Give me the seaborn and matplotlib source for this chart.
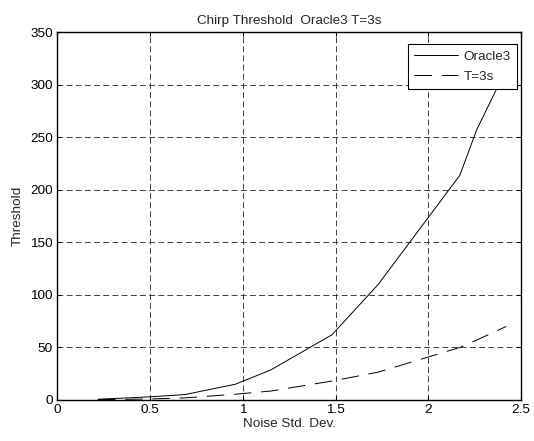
import seaborn as sns
from matplotlib import pyplot as plt
import pandas as pd

sns.set_style('white')
plt.rcParams['font.family'] = ['Liberation Sans', 'DejaVu Sans']
plt.rcParams['font.size'] = 9.7

# values
noise_std = [0.22, 0.5, 0.69, 0.96, 1.15, 1.48, 1.73, 2.17, 2.26, 2.42]
oracle3 = [0.7, 3.0, 5.2, 15.0, 28.5, 62.0, 110.0, 214.0, 257.0, 315.0]
t3s = [0.3, 1.0, 2.0, 5.5, 8.5, 18.0, 26.5, 50.0, 57.0, 70.0]
series_names = ['Oracle3', 'T=3s']

df = pd.DataFrame({
    'noise': noise_std * 2,
    'threshold': oracle3 + t3s,
    'series': [series_names[0]] * len(noise_std) + [series_names[1]] * len(noise_std),
})

fig = plt.figure(figsize=(5.34, 4.41), dpi=100)
ax = fig.add_axes([0.107, 0.093, 0.869, 0.834])

sns.lineplot(data=df, x='noise', y='threshold', style='series',
             dashes={'Oracle3': '', 'T=3s': (18, 10)},
             color='black', linewidth=0.7, ax=ax)

ax.set_xlim(0, 2.5)
ax.set_ylim(0, 350)
ax.set_xticks([0, 0.5, 1, 1.5, 2, 2.5])
ax.set_xticklabels(['0', '0.5', '1', '1.5', '2', '2.5'])
ax.set_yticks(range(0, 351, 50))

ax.grid(True, color='#222222', linestyle=(0, (7, 4)), linewidth=0.6)
for s in ax.spines.values():
    s.set_color('black')
    s.set_linewidth(1.0)
ax.tick_params(direction='in', length=3, width=0.8, top=True, right=True,
               bottom=True, left=True, colors='black', labelsize=9.7, pad=3)

ax.set_title('Chirp Threshold  Oracle3 T=3s', fontsize=9.7, pad=6)
ax.set_xlabel('Noise Std. Dev.', fontsize=9.7, labelpad=1)
ax.set_ylabel('Threshold', fontsize=9.7, labelpad=5)

leg = ax.legend(loc='upper right', bbox_to_anchor=(0.991, 0.967),
                fontsize=9.7, frameon=True, fancybox=False,
                edgecolor='black', framealpha=1, handlelength=3.3,
                handletextpad=0.4, borderpad=0.45, labelspacing=0.55,
                borderaxespad=0, title=None)
leg.get_frame().set_linewidth(0.8)

fig.savefig('out.png', dpi=100, facecolor='white')
